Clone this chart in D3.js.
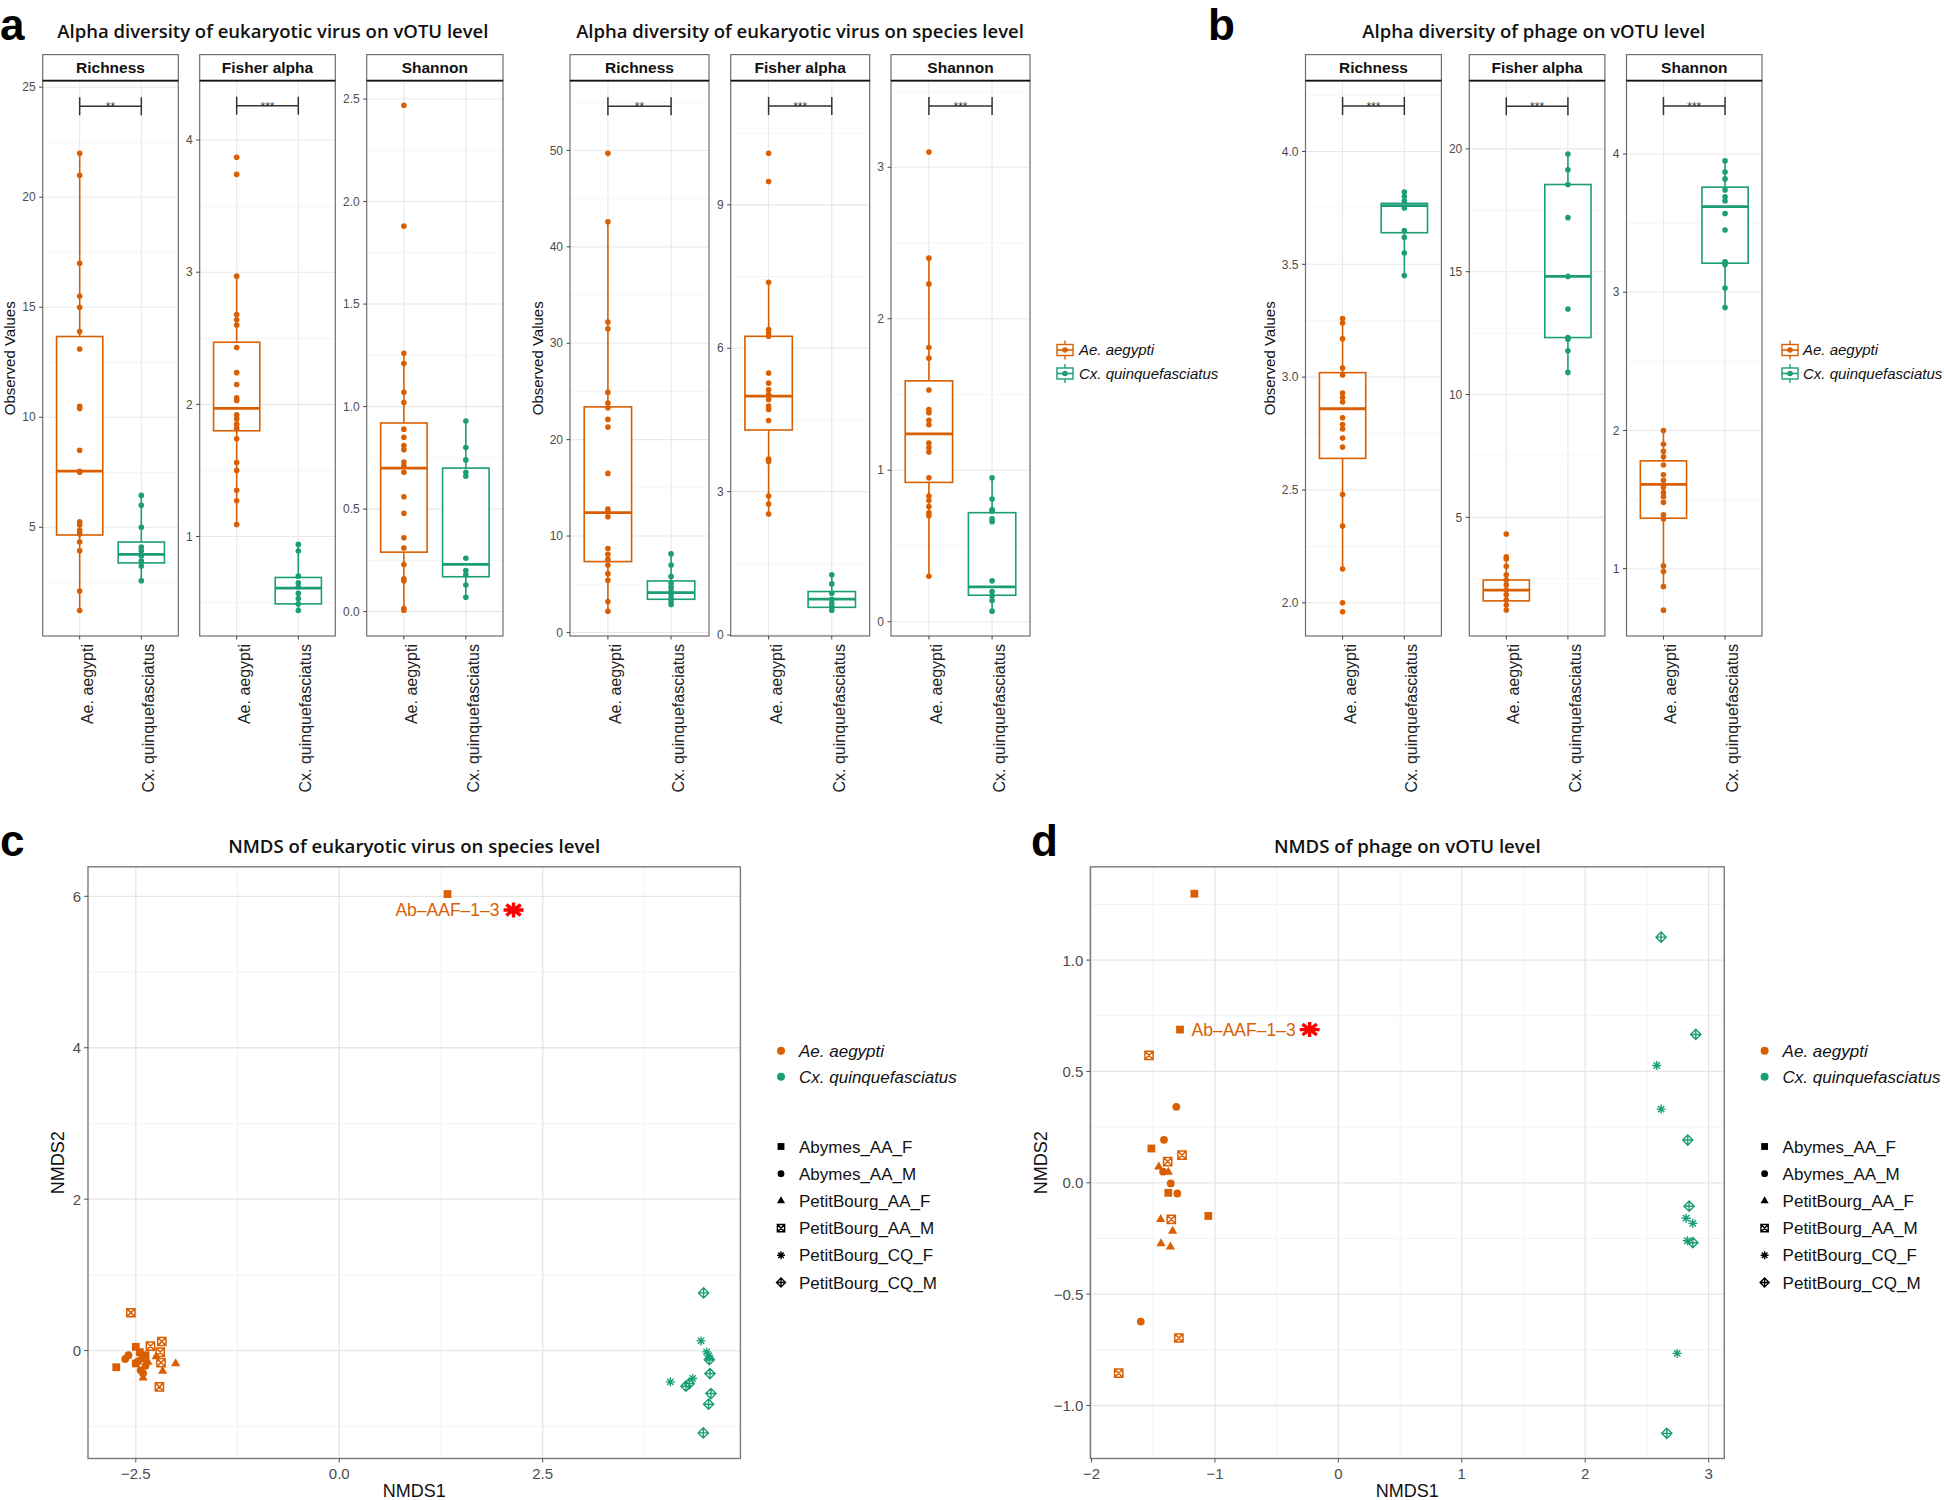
<!DOCTYPE html>
<html><head><meta charset="utf-8">
<script src="https://cdn.jsdelivr.net/npm/d3@7"></script>
<style>body{margin:0;background:#fff}svg{display:block}</style>
</head><body>
<svg id="chart" width="1944" height="1500"></svg>
<script>
// ---------------- DATA ----------------
const groups = ["Ae. aegypti", "Cx. quinquefasciatus"];
const metrics = ["Richness", "Fisher alpha", "Shannon"];

// a (left): eukaryotic virus, vOTU level
const euVotuRichnessAe = [22, 21, 17, 15.5, 15, 13.9, 13.1, 10.5, 10.4, 8.5, 7.55, 7.5, 5.25, 5.1, 4.86, 4.7, 4.33, 3.93, 2.1, 1.22];
const euVotuRichnessCx = [6.45, 6.0, 5.0, 4.1, 3.93, 3.7, 3.47, 3.24, 2.57];
const euVotuFisherAe = [3.87, 3.74, 2.97, 2.68, 2.64, 2.60, 2.43, 2.24, 2.15, 2.05, 2.03, 1.92, 1.89, 1.85, 1.82, 1.74, 1.56, 1.50, 1.35, 1.27, 1.09];
const euVotuFisherCx = [0.94, 0.89, 0.70, 0.65, 0.62, 0.57, 0.53, 0.49, 0.44];
const euVotuShannonAe = [2.47, 1.88, 1.26, 1.21, 1.07, 1.02, 0.89, 0.85, 0.81, 0.79, 0.73, 0.71, 0.68, 0.56, 0.48, 0.36, 0.31, 0.23, 0.16, 0.15, 0.015, 0.007];
const euVotuShannonCx = [0.93, 0.80, 0.74, 0.68, 0.66, 0.26, 0.20, 0.18, 0.13, 0.07];
// box stats: [lower whisker, Q1, median, Q3, upper whisker]
const euVotuBoxes = [
  [[1.22, 4.65, 7.55, 13.67, 22], [2.57, 3.38, 3.77, 4.33, 6.45]],
  [[1.09, 1.80, 1.97, 2.47, 2.97], [0.44, 0.49, 0.61, 0.69, 0.94]],
  [[0.007, 0.29, 0.70, 0.92, 1.26], [0.07, 0.17, 0.23, 0.70, 0.93]]
];
const euVotuTicks = [[5, 10, 15, 20, 25], [1, 2, 3, 4], [0, 0.5, 1, 1.5, 2, 2.5]];
const euVotuLimits = [[0.06, 25.3], [0.247, 4.45], [-0.119, 2.59]];
const euVotuSig = [["**", 24.14], ["***", 4.259], null];

// a (right): eukaryotic virus, species level
const euSpRichnessAe = [49.7, 42.6, 32.2, 31.5, 24.9, 23.8, 23.3, 22.1, 21.3, 16.5, 12.8, 12.5, 12.0, 8.7, 8.1, 7.6, 7.0, 6.1, 5.4, 3.2, 2.2];
const euSpRichnessCx = [8.15, 7.0, 5.8, 5.1, 4.7, 4.3, 4.0, 3.6, 3.2, 2.9];
const euSpFisherAe = [10.08, 9.49, 7.38, 6.39, 6.32, 6.25, 5.48, 5.27, 5.13, 5.03, 4.93, 4.79, 4.72, 4.49, 3.68, 3.63, 2.91, 2.74, 2.53];
const euSpFisherCx = [1.26, 1.07, 0.875, 0.75, 0.66, 0.59, 0.52];
const euSpShannonAe = [3.10, 2.40, 2.23, 1.81, 1.74, 1.53, 1.40, 1.38, 1.33, 1.30, 1.18, 1.15, 1.12, 0.95, 0.83, 0.80, 0.76, 0.72, 0.70, 0.30];
const euSpShannonCx = [0.95, 0.81, 0.74, 0.73, 0.68, 0.66, 0.27, 0.20, 0.17, 0.14, 0.07];
const euSpBoxes = [
  [[2.2, 7.35, 12.43, 23.4, 42.6], [2.9, 3.44, 4.13, 5.34, 8.15]],
  [[2.53, 4.29, 5.0, 6.25, 7.38], [0.52, 0.58, 0.75, 0.91, 1.26]],
  [[0.30, 0.92, 1.24, 1.59, 2.40], [0.07, 0.175, 0.23, 0.72, 0.95]]
];
const euSpTicks = [[0, 10, 20, 30, 40, 50], [0, 3, 6, 9], [0, 1, 2, 3]];
const euSpLimits = [[-0.37, 57.25], [-0.02, 11.6], [-0.094, 3.572]];
const euSpSig = [["**", 54.6], ["***", 11.07], ["***", 3.404]];

// b: phage, vOTU level
const phRichnessAe = [3.26, 3.24, 3.17, 3.04, 3.01, 2.93, 2.91, 2.89, 2.82, 2.79, 2.77, 2.73, 2.69, 2.48, 2.34, 2.15, 2.0, 1.96];
const phRichnessCx = [3.82, 3.80, 3.78, 3.75, 3.65, 3.62, 3.55, 3.45];
const phFisherAe = [4.32, 3.39, 3.30, 3.01, 2.66, 2.45, 2.25, 2.04, 1.85, 1.64, 1.43, 1.23];
const phFisherCx = [19.79, 19.15, 18.55, 17.2, 14.81, 13.48, 12.32, 12.25, 11.78, 10.90];
const phShannonAe = [2.0, 1.90, 1.85, 1.81, 1.75, 1.68, 1.64, 1.59, 1.55, 1.52, 1.48, 1.39, 1.36, 1.02, 0.98, 0.87, 0.70];
const phShannonCx = [3.95, 3.87, 3.82, 3.74, 3.69, 3.66, 3.57, 3.45, 3.22, 3.20, 3.03, 2.89];
const phBoxes = [
  [[2.15, 2.64, 2.86, 3.02, 3.26], [3.45, 3.64, 3.76, 3.77, 3.82]],
  [[1.23, 1.6, 2.04, 2.45, 3.39], [10.90, 12.32, 14.81, 18.55, 19.79]],
  [[0.87, 1.365, 1.61, 1.78, 2.0], [2.89, 3.21, 3.62, 3.76, 3.95]]
];
const phTicks = [[2, 2.5, 3, 3.5, 4], [5, 10, 15, 20], [1, 2, 3, 4]];
const phLimits = [[1.853, 4.314], [0.17, 22.78], [0.513, 4.531]];
const phSig = [["***", 4.201], ["***", 21.74], ["***", 4.347]];

// NMDS shapes / groups
const shapeNames = ["Abymes_AA_F", "Abymes_AA_M", "PetitBourg_AA_F", "PetitBourg_AA_M", "PetitBourg_CQ_F", "PetitBourg_CQ_M"];
// c: eukaryotic virus species-level NMDS  [NMDS1, NMDS2]
const cAbymesAAF = [[1.33, 6.03], [-2.50, 0.05], [-2.74, -0.22], [-2.50, -0.17], [-2.38, -0.06], [-2.42, -0.10], [-2.45, -0.02]];
const cAbymesAAM = [[-2.63, -0.11], [-2.59, -0.06], [-2.44, -0.26], [-2.41, -0.30], [-2.47, -0.14], [-2.38, -0.20]];
const cPBAAF = [[-2.01, -0.17], [-2.17, -0.27], [-2.41, -0.36], [-2.25, -0.08], [-2.35, -0.15]];
const cPBAAM = [[-2.56, 0.50], [-2.32, 0.06], [-2.18, 0.12], [-2.20, -0.02], [-2.19, -0.16], [-2.21, -0.48]];
const cPBCQF = [[4.445, 0.128], [4.514, -0.017], [4.54, -0.07], [4.068, -0.413], [4.342, -0.369], [4.55, -0.10]];
const cPBCQM = [[4.477, 0.762], [4.547, -0.12], [4.555, -0.303], [4.26, -0.47], [4.30, -0.435], [4.567, -0.567], [4.538, -0.708], [4.473, -1.087]];
const cXTicks = [-2.5, 0, 2.5];
const cYTicks = [0, 2, 4, 6];
const cXLimits = [-3.087, 4.929];
const cYLimits = [-1.425, 6.39];
// d: phage vOTU-level NMDS
const dAbymesAAF = [[-1.167, 1.298], [-1.283, 0.688], [-1.515, 0.154], [-1.378, -0.045], [-1.054, -0.149]];
const dAbymesAAM = [[-1.313, 0.341], [-1.413, 0.193], [-1.42, 0.05], [-1.358, -0.003], [-1.305, -0.048], [-1.601, -0.623]];
const dPBAAF = [[-1.455, 0.072], [-1.378, 0.048], [-1.44, -0.164], [-1.343, -0.217], [-1.437, -0.273], [-1.361, -0.288]];
const dPBAAM = [[-1.534, 0.572], [-1.267, 0.124], [-1.383, 0.095], [-1.354, -0.164], [-1.292, -0.697], [-1.78, -0.855]];
const dPBCQF = [[2.580, 0.527], [2.615, 0.331], [2.818, -0.159], [2.872, -0.182], [2.828, -0.26], [2.745, -0.766]];
const dPBCQM = [[2.615, 1.103], [2.896, 0.666], [2.831, 0.192], [2.842, -0.105], [2.872, -0.269], [2.661, -1.125]];
const dXTicks = [-2, -1, 0, 1, 2, 3];
const dYTicks = [-1, -0.5, 0, 0.5, 1];
const dXLimits = [-2.01, 3.127];
const dYLimits = [-1.238, 1.419];
const outlierLabel = "Ab\u2013AAF\u20131\u20133";

// ---------------- DRAWING ----------------
const svg = d3.select("#chart");
const ORANGE = "#D95F02", GREEN = "#1B9E77";
const colors = [ORANGE, GREEN];
const SANS = "'Liberation Sans', Arial, Helvetica, sans-serif";
const TITLEF = "'Open Sans', 'Liberation Sans', sans-serif";
const minus = s => s.replace("-", "\u2212");

svg.append("rect").attr("width", 1944).attr("height", 1500).attr("fill", "#fff");

const ST = 54.6, PT = 80.6, PB = 636;

function drawAlphaGroup(cfg) {
  cfg.cols.forEach((col, i) => {
    const [x0, x1] = col;
    const xs = d3.scalePoint().domain(groups).range([x0, x1]).padding(0.6);
    const ys = d3.scaleLinear().domain(cfg.limits[i]).range([PB, PT]);
    const g = svg.append("g");
    const ticks = cfg.ticks[i];
    const stp = ticks[1] - ticks[0];
    const lim = cfg.limits[i];
    const minors = [ticks[0] - stp / 2, ...ticks.map(t => t + stp / 2)].filter(v => v > lim[0] && v < lim[1]);
    g.append("rect").attr("x", x0).attr("y", PT).attr("width", x1 - x0).attr("height", PB - PT).attr("fill", "#fff");
    g.selectAll(".mn").data(minors).join("line")
      .attr("x1", x0).attr("x2", x1).attr("y1", d => ys(d)).attr("y2", d => ys(d))
      .attr("stroke", "#f3f3f3").attr("stroke-width", 0.8);
    g.selectAll(".mj").data(ticks).join("line")
      .attr("x1", x0).attr("x2", x1).attr("y1", d => ys(d)).attr("y2", d => ys(d))
      .attr("stroke", "#e8e8e8").attr("stroke-width", 1.1);
    g.selectAll(".vg").data(groups).join("line")
      .attr("x1", d => xs(d)).attr("x2", d => xs(d)).attr("y1", PT).attr("y2", PB)
      .attr("stroke", "#e8e8e8").attr("stroke-width", 1.1);
    const bw = xs.step() * 0.75;
    cfg.boxes[i].forEach((b, k) => {
      const cx = xs(groups[k]), c = colors[k];
      g.append("line").attr("x1", cx).attr("x2", cx).attr("y1", ys(b[0])).attr("y2", ys(b[1]))
        .attr("stroke", c).attr("stroke-width", 1.6);
      g.append("line").attr("x1", cx).attr("x2", cx).attr("y1", ys(b[3])).attr("y2", ys(b[4]))
        .attr("stroke", c).attr("stroke-width", 1.6);
      g.append("rect").attr("x", cx - bw / 2).attr("width", bw).attr("y", ys(b[3]))
        .attr("height", ys(b[1]) - ys(b[3])).attr("fill", "#fff")
        .attr("stroke", c).attr("stroke-width", 1.6);
      g.append("line").attr("x1", cx - bw / 2).attr("x2", cx + bw / 2).attr("y1", ys(b[2])).attr("y2", ys(b[2]))
        .attr("stroke", c).attr("stroke-width", 2.8);
    });
    cfg.points[i].forEach((arr, k) => {
      g.selectAll(null).data(arr).join("circle")
        .attr("cx", xs(groups[k])).attr("cy", d => ys(d)).attr("r", 2.8).attr("fill", colors[k]);
    });
    // significance
    const sg = cfg.sig[i];
    if (sg) {
      const ly = ys(sg[1]), xa = xs(groups[0]), xb = xs(groups[1]);
      g.append("path").attr("d", `M${xa},${ly - 9}V${ly + 9}M${xa},${ly}H${xb}M${xb},${ly - 9}V${ly + 9}`)
        .attr("stroke", "#333").attr("stroke-width", 1.5).attr("fill", "none");
      g.append("text").attr("x", (xa + xb) / 2).attr("y", ly + 5).attr("text-anchor", "middle")
        .attr("font-family", SANS).attr("font-size", 12).attr("fill", "#333").text(sg[0]);
    }
    g.append("rect").attr("x", x0).attr("y", PT).attr("width", x1 - x0).attr("height", PB - PT)
      .attr("fill", "none").attr("stroke", "#6e6e6e").attr("stroke-width", 1.2);
    // strip
    g.append("rect").attr("x", x0).attr("y", ST).attr("width", x1 - x0).attr("height", PT - ST)
      .attr("fill", "#fff").attr("stroke", "#6e6e6e").attr("stroke-width", 1.2);
    g.append("line").attr("x1", x0).attr("x2", x1).attr("y1", PT).attr("y2", PT)
      .attr("stroke", "#111").attr("stroke-width", 1.6);
    g.append("text").attr("x", (x0 + x1) / 2).attr("y", (ST + PT) / 2).attr("dy", "0.36em")
      .attr("text-anchor", "middle").attr("font-family", SANS).attr("font-weight", "bold")
      .attr("font-size", 15.5).attr("fill", "#111").text(metrics[i]);
    // y ticks
    g.selectAll(".yt").data(ticks).join("line")
      .attr("x1", x0 - 3.5).attr("x2", x0).attr("y1", d => ys(d)).attr("y2", d => ys(d))
      .attr("stroke", "#444").attr("stroke-width", 1);
    g.selectAll(".yl").data(ticks).join("text")
      .attr("x", x0 - 7).attr("y", d => ys(d)).attr("dy", "0.35em").attr("text-anchor", "end")
      .attr("font-family", SANS).attr("font-size", 12).attr("fill", "#4d4d4d")
      .text(d => cfg.fmt[i](d));
    // x ticks + labels
    g.selectAll(".xt").data(groups).join("line")
      .attr("x1", d => xs(d)).attr("x2", d => xs(d)).attr("y1", PB).attr("y2", PB + 3.5)
      .attr("stroke", "#444").attr("stroke-width", 1);
    g.selectAll(".xl").data(groups).join("text")
      .attr("transform", d => `translate(${xs(d) + 13},${PB + 8}) rotate(-90)`)
      .attr("text-anchor", "end").attr("font-family", SANS).attr("font-size", 16).attr("fill", "#222")
      .text(d => d);
  });
  const gx0 = cfg.cols[0][0], gx1 = cfg.cols[2][1];
  svg.append("text").attr("x", (gx0 + gx1) / 2).attr("y", 38).attr("text-anchor", "middle")
    .attr("font-family", TITLEF).attr("font-weight", 600).attr("font-size", 18.5).attr("fill", "#111")
    .text(cfg.title);
  svg.append("text").attr("transform", `translate(${cfg.ytx},${(PT + PB) / 2}) rotate(-90)`)
    .attr("text-anchor", "middle").attr("font-family", SANS).attr("font-size", 15).attr("fill", "#111")
    .text("Observed Values");
}

const f0 = d3.format("d"), f1 = d3.format(".1f");
drawAlphaGroup({
  title: "Alpha diversity of eukaryotic virus on vOTU level",
  cols: [[42.7, 178.3], [199.7, 335.3], [366.7, 503]], ytx: 15,
  ticks: euVotuTicks, limits: euVotuLimits, boxes: euVotuBoxes, sig: euVotuSig, fmt: [f0, f0, f1],
  points: [[euVotuRichnessAe, euVotuRichnessCx], [euVotuFisherAe, euVotuFisherCx], [euVotuShannonAe, euVotuShannonCx]]
});
drawAlphaGroup({
  title: "Alpha diversity of eukaryotic virus on species level",
  cols: [[570, 709], [730.7, 869.7], [891, 1030]], ytx: 543,
  ticks: euSpTicks, limits: euSpLimits, boxes: euSpBoxes, sig: euSpSig, fmt: [f0, f0, f0],
  points: [[euSpRichnessAe, euSpRichnessCx], [euSpFisherAe, euSpFisherCx], [euSpShannonAe, euSpShannonCx]]
});
drawAlphaGroup({
  title: "Alpha diversity of phage on vOTU level",
  cols: [[1305.5, 1441.4], [1469.3, 1604.9], [1626.5, 1762]], ytx: 1275,
  ticks: phTicks, limits: phLimits, boxes: phBoxes, sig: phSig, fmt: [f1, f0, f0],
  points: [[phRichnessAe, phRichnessCx], [phFisherAe, phFisherCx], [phShannonAe, phShannonCx]]
});

// boxplot legends
function boxLegend(cx, tx) {
  const rows = [350, 373.5];
  groups.forEach((gname, k) => {
    const y = rows[k], c = colors[k];
    const g = svg.append("g");
    g.append("line").attr("x1", cx).attr("x2", cx).attr("y1", y - 9.5).attr("y2", y + 9.5)
      .attr("stroke", c).attr("stroke-width", 1.4);
    g.append("rect").attr("x", cx - 8).attr("y", y - 5.5).attr("width", 16).attr("height", 11)
      .attr("fill", "#fff").attr("stroke", c).attr("stroke-width", 1.4);
    g.append("line").attr("x1", cx - 8).attr("x2", cx + 8).attr("y1", y).attr("y2", y)
      .attr("stroke", c).attr("stroke-width", 1.6);
    g.append("circle").attr("cx", cx).attr("cy", y).attr("r", 2.8).attr("fill", c);
    g.append("text").attr("x", tx).attr("y", y).attr("dy", "0.35em").attr("font-family", SANS)
      .attr("font-style", "italic").attr("font-size", 15).attr("fill", "#111").text(gname);
  });
}
boxLegend(1065, 1079);
boxLegend(1790, 1803);

// panel letters
[["a", 0, 40], ["b", 1208, 40], ["c", 0, 856], ["d", 1031, 856]].forEach(([t, x, y]) => {
  svg.append("text").attr("x", x).attr("y", y).attr("font-family", SANS).attr("font-weight", "bold")
    .attr("font-size", 44).attr("fill", "#000").text(t);
});

// -------- NMDS --------
function shapePath(type, s) {
  const h = s;
  switch (type) {
    case 0: return d3.symbol(d3.symbolSquare, (2 * h * 0.95) ** 2)();
    case 1: return d3.symbol(d3.symbolCircle, Math.PI * (h * 0.95) ** 2)();
    case 2: return d3.symbol(d3.symbolTriangle, (h * 2.25) ** 2 * 0.433)();
    case 3: return `M${-h},${-h}H${h}V${h}H${-h}ZM${-h},${-h}L${h},${h}M${h},${-h}L${-h},${h}`;
    case 4: { const a = h * 0.78; return `M0,${-h * 1.1}V${h * 1.1}M${-h * 1.1},0H${h * 1.1}M${-a},${-a}L${a},${a}M${a},${-a}L${-a},${a}`; }
    case 5: { const r = h * 1.25; return `M0,${-r}L${r},0L0,${r}L${-r},0ZM0,${-r}V${r}M${-r},0H${r}`; }
  }
}
function drawShape(g, type, x, y, color, s) {
  const p = g.append("path").attr("d", shapePath(type, s)).attr("transform", `translate(${x},${y})`);
  if (type <= 2) p.attr("fill", color);
  else p.attr("fill", "none").attr("stroke", color).attr("stroke-width", type === 3 ? 1.5 : 1.4);
}

function nmdsPanel(cfg) {
  const { x0, x1, y0, y1 } = cfg;
  const xs = d3.scaleLinear().domain(cfg.xlim).range([x0, x1]);
  const ys = d3.scaleLinear().domain(cfg.ylim).range([y1, y0]);
  const g = svg.append("g");
  const sx = cfg.xt[1] - cfg.xt[0], sy = cfg.yt[1] - cfg.yt[0];
  const xm = [cfg.xt[0] - sx / 2, ...cfg.xt.map(t => t + sx / 2)].filter(v => v > cfg.xlim[0] && v < cfg.xlim[1]);
  const ym = [cfg.yt[0] - sy / 2, ...cfg.yt.map(t => t + sy / 2)].filter(v => v > cfg.ylim[0] && v < cfg.ylim[1]);
  g.selectAll(".xm").data(xm).join("line").attr("x1", d => xs(d)).attr("x2", d => xs(d)).attr("y1", y0).attr("y2", y1)
    .attr("stroke", "#f2f2f2").attr("stroke-width", 0.9);
  g.selectAll(".ym").data(ym).join("line").attr("y1", d => ys(d)).attr("y2", d => ys(d)).attr("x1", x0).attr("x2", x1)
    .attr("stroke", "#f2f2f2").attr("stroke-width", 0.9);
  g.selectAll(".xg").data(cfg.xt).join("line").attr("x1", d => xs(d)).attr("x2", d => xs(d)).attr("y1", y0).attr("y2", y1)
    .attr("stroke", "#e6e6e6").attr("stroke-width", 1.3);
  g.selectAll(".yg").data(cfg.yt).join("line").attr("y1", d => ys(d)).attr("y2", d => ys(d)).attr("x1", x0).attr("x2", x1)
    .attr("stroke", "#e6e6e6").attr("stroke-width", 1.3);
  cfg.sets.forEach((set, si) => {
    const col = si < 4 ? ORANGE : GREEN;
    set.forEach(p => drawShape(g, si, xs(p[0]), ys(p[1]), col, 4.1));
  });
  g.append("rect").attr("x", x0).attr("y", y0).attr("width", x1 - x0).attr("height", y1 - y0)
    .attr("fill", "none").attr("stroke", "#7a7a7a").attr("stroke-width", 1.4);
  // ticks
  g.selectAll(".xtk").data(cfg.xt).join("line").attr("x1", d => xs(d)).attr("x2", d => xs(d)).attr("y1", y1).attr("y2", y1 + 4)
    .attr("stroke", "#555");
  g.selectAll(".ytk").data(cfg.yt).join("line").attr("y1", d => ys(d)).attr("y2", d => ys(d)).attr("x1", x0 - 4).attr("x2", x0)
    .attr("stroke", "#555");
  g.selectAll(".xtl").data(cfg.xt).join("text").attr("x", d => xs(d)).attr("y", 1479).attr("text-anchor", "middle")
    .attr("font-family", SANS).attr("font-size", 15).attr("fill", "#4d4d4d").text(d => minus(cfg.xf(d)));
  g.selectAll(".ytl").data(cfg.yt).join("text").attr("x", x0 - 7).attr("y", d => ys(d)).attr("dy", "0.36em")
    .attr("text-anchor", "end").attr("font-family", SANS).attr("font-size", 15).attr("fill", "#4d4d4d")
    .text(d => minus(cfg.yf(d)));
  // titles
  svg.append("text").attr("x", (x0 + x1) / 2).attr("y", 853).attr("text-anchor", "middle")
    .attr("font-family", TITLEF).attr("font-weight", 600).attr("font-size", 18.6).attr("fill", "#111").text(cfg.title);
  svg.append("text").attr("x", (x0 + x1) / 2).attr("y", 1497).attr("text-anchor", "middle")
    .attr("font-family", SANS).attr("font-size", 18).attr("fill", "#111").text("NMDS1");
  svg.append("text").attr("transform", `translate(${cfg.ytx},${(y0 + y1) / 2}) rotate(-90)`).attr("text-anchor", "middle")
    .attr("font-family", SANS).attr("font-size", 18).attr("fill", "#111").text("NMDS2");
  // outlier annotation
  const op = cfg.sets[0][cfg.outIdx];
  const px = xs(op[0]), py = ys(op[1]);
  const lab = g.append("text").attr("font-family", SANS).attr("font-size", 17.5).attr("fill", ORANGE)
    .attr("dy", "0.36em").text(outlierLabel);
  let right;
  if (cfg.labelMode === "below") {
    lab.attr("x", px).attr("y", py + 16).attr("text-anchor", "middle");
    right = px + lab.node().getComputedTextLength() / 2;
  } else {
    lab.attr("x", px + 11.5).attr("y", py).attr("text-anchor", "start");
    right = px + 11.5 + lab.node().getComputedTextLength();
  }
  const ay = cfg.labelMode === "below" ? py + 16 : py;
  const ax = right + 14, rx = 10, ry = 7.5;
  const dirs = [[0, 1], [1, 0], [0.72, 0.72], [0.72, -0.72]];
  const arms = dirs.map(([dx, dy]) => `M${ax - rx * dx},${ay - ry * dy}L${ax + rx * dx},${ay + ry * dy}`).join("");
  g.append("path").attr("d", arms).attr("stroke", "#FF0000").attr("stroke-width", 3.4).attr("stroke-linecap", "butt");
  // legend
  const lk = cfg.legKey, lt = cfg.legKey + 18;
  groups.forEach((gn, k) => {
    const y = 1050.8 + k * 26;
    svg.append("circle").attr("cx", lk).attr("cy", y).attr("r", 4).attr("fill", colors[k]);
    svg.append("text").attr("x", lt).attr("y", y).attr("dy", "0.36em").attr("font-family", SANS)
      .attr("font-style", "italic").attr("font-size", 17).attr("fill", "#111").text(gn);
  });
  shapeNames.forEach((nm, k) => {
    const y = 1146.5 + k * 27.2;
    drawShape(svg, k, lk, y, "#000", 3.6);
    svg.append("text").attr("x", lt).attr("y", y).attr("dy", "0.36em").attr("font-family", SANS)
      .attr("font-size", 17).attr("fill", "#111").text(nm);
  });
}

nmdsPanel({
  title: "NMDS of eukaryotic virus on species level",
  x0: 88, x1: 740.4, y0: 866.8, y1: 1458.5, ytx: 64,
  xlim: cXLimits, ylim: cYLimits, xt: cXTicks, yt: cYTicks,
  xf: d3.format(".1f"), yf: d3.format("d"),
  sets: [cAbymesAAF, cAbymesAAM, cPBAAF, cPBAAM, cPBCQF, cPBCQM], outIdx: 0, labelMode: "below",
  legKey: 781
});
nmdsPanel({
  title: "NMDS of phage on vOTU level",
  x0: 1090.3, x1: 1724.3, y0: 866.8, y1: 1458.5, ytx: 1047,
  xlim: dXLimits, ylim: dYLimits, xt: dXTicks, yt: dYTicks,
  xf: d3.format("d"), yf: d3.format(".1f"),
  sets: [dAbymesAAF, dAbymesAAM, dPBAAF, dPBAAM, dPBCQF, dPBCQM], outIdx: 1, labelMode: "right",
  legKey: 1764.6
});
</script>
</body></html>
